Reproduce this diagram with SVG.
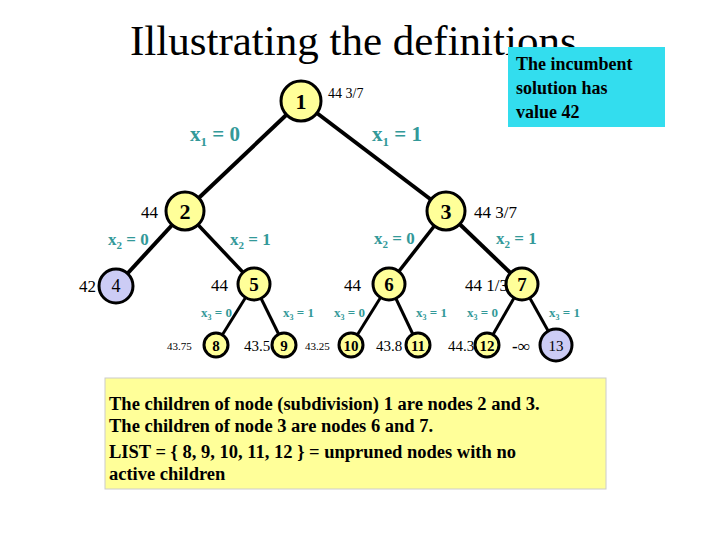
<svg xmlns="http://www.w3.org/2000/svg" width="720" height="540" viewBox="0 0 720 540">
<style>
.t{font-family:"Liberation Serif",serif}
.b{font-family:"Liberation Serif",serif;font-weight:bold}
.n{fill:#ffff99;stroke:#000;stroke-width:3}
.p{fill:#ccccf5;stroke:#000;stroke-width:3}
.lab{font-family:"Liberation Serif",serif;font-weight:bold;fill:#339999}
.e{stroke:#000}
</style>
<rect width="720" height="540" fill="#fff"/>
<text class="t" x="130" y="55" font-size="43">Illustrating the definitions</text>
<g id="incumbent"><rect x="508" y="47" width="157" height="80" fill="#33ddee"/>
<text class="b" font-size="18" x="516" y="70">The incumbent</text>
<text class="b" font-size="18" x="516" y="94">solution has</text>
<text class="b" font-size="18" x="516" y="118">value 42</text></g>
<g id="connectors" class="e">
<line x1="301" y1="101" x2="185" y2="211" stroke-width="4"/>
<line x1="301" y1="101" x2="446" y2="211" stroke-width="4"/>
<line x1="185" y1="211" x2="116" y2="286" stroke-width="4"/>
<line x1="185" y1="211" x2="254" y2="284" stroke-width="3.5"/>
<line x1="446" y1="211" x2="389" y2="284" stroke-width="3.5"/>
<line x1="446" y1="211" x2="522" y2="284" stroke-width="4"/>
<line x1="254" y1="284" x2="216" y2="345" stroke-width="3"/>
<line x1="254" y1="284" x2="284" y2="345" stroke-width="3"/>
<line x1="389" y1="284" x2="351" y2="345" stroke-width="3"/>
<line x1="389" y1="284" x2="418" y2="345" stroke-width="3"/>
<line x1="522" y1="284" x2="487" y2="345" stroke-width="3"/>
<line x1="522" y1="284" x2="556" y2="345" stroke-width="3"/>
</g>
<g id="edge-labels" class="lab">
<text x="190" y="141" font-size="21">x<tspan font-size="13" dy="5">1</tspan><tspan dy="-5"> = 0</tspan></text>
<text x="372" y="141" font-size="21">x<tspan font-size="13" dy="5">1</tspan><tspan dy="-5"> = 1</tspan></text>
<text x="108" y="245" font-size="17">x<tspan font-size="11" dy="4">2</tspan><tspan dy="-4"> = 0</tspan></text>
<text x="230" y="245" font-size="17">x<tspan font-size="11" dy="4">2</tspan><tspan dy="-4"> = 1</tspan></text>
<text x="374" y="244" font-size="17">x<tspan font-size="11" dy="4">2</tspan><tspan dy="-4"> = 0</tspan></text>
<text x="496" y="244" font-size="17">x<tspan font-size="11" dy="4">2</tspan><tspan dy="-4"> = 1</tspan></text>
<text x="201" y="317" font-size="13">x<tspan font-size="8" dy="3">3</tspan><tspan dy="-3"> = 0</tspan></text>
<text x="283" y="317" font-size="13">x<tspan font-size="8" dy="3">3</tspan><tspan dy="-3"> = 1</tspan></text>
<text x="334" y="317" font-size="13">x<tspan font-size="8" dy="3">3</tspan><tspan dy="-3"> = 0</tspan></text>
<text x="416" y="317" font-size="13">x<tspan font-size="8" dy="3">3</tspan><tspan dy="-3"> = 1</tspan></text>
<text x="467" y="317" font-size="13">x<tspan font-size="8" dy="3">3</tspan><tspan dy="-3"> = 0</tspan></text>
<text x="549" y="317" font-size="13">x<tspan font-size="8" dy="3">3</tspan><tspan dy="-3"> = 1</tspan></text>
</g>
<g id="node1"><circle class="n" cx="301" cy="101" r="20"/><text class="b" x="301" y="109" font-size="22" text-anchor="middle">1</text><text class="t" x="328" y="98" font-size="14">44 3/7</text></g>
<g id="node2"><circle class="n" cx="185" cy="211" r="19"/><text class="b" x="185" y="219" font-size="22" text-anchor="middle">2</text><text class="t" x="141" y="218" font-size="17">44</text></g>
<g id="node3"><circle class="n" cx="446" cy="211" r="19"/><text class="b" x="446" y="219" font-size="22" text-anchor="middle">3</text><text class="t" x="474" y="218" font-size="17">44 3/7</text></g>
<g id="node4"><circle class="p" cx="116" cy="286" r="17"/><text class="t" x="116" y="292" font-size="18" text-anchor="middle">4</text><text class="t" x="79" y="292" font-size="17">42</text></g>
<g id="node5"><circle class="n" cx="254" cy="284" r="16"/><text class="b" x="254" y="291" font-size="19" text-anchor="middle">5</text><text class="t" x="211" y="291" font-size="17">44</text></g>
<g id="node6"><circle class="n" cx="389" cy="284" r="16"/><text class="b" x="389" y="291" font-size="19" text-anchor="middle">6</text><text class="t" x="344" y="291" font-size="17">44</text></g>
<g id="node7"><circle class="n" cx="522" cy="284" r="16"/><text class="b" x="522" y="291" font-size="19" text-anchor="middle">7</text><text class="t" x="465" y="291" font-size="17">44 1/3</text></g>
<g id="node8"><circle class="n" cx="216" cy="345" r="12"/><text class="b" x="216" y="351" font-size="15" text-anchor="middle">8</text><text class="t" x="167" y="350" font-size="11">43.75</text></g>
<g id="node9"><circle class="n" cx="284" cy="345" r="12"/><text class="b" x="284" y="351" font-size="15" text-anchor="middle">9</text><text class="t" x="244" y="351" font-size="15">43.5</text></g>
<g id="node10"><circle class="n" cx="351" cy="345" r="12"/><text class="b" x="351" y="351" font-size="15" text-anchor="middle">10</text><text class="t" x="305" y="350" font-size="11">43.25</text></g>
<g id="node11"><circle class="n" cx="418" cy="345" r="12"/><text class="b" x="418" y="351" font-size="15" text-anchor="middle">11</text><text class="t" x="376" y="351" font-size="15">43.8</text></g>
<g id="node12"><circle class="n" cx="487" cy="345" r="12"/><text class="b" x="487" y="351" font-size="15" text-anchor="middle">12</text><text class="t" x="448" y="351" font-size="15">44.3</text></g>
<g id="node13"><circle class="p" cx="556" cy="345" r="16"/><text class="t" x="556" y="351" font-size="15" text-anchor="middle">13</text><text class="b" x="512" y="352" font-size="17">-∞</text></g>
<g id="note"><rect x="105" y="378" width="501" height="111" fill="#ffff99" stroke="#ccc"/>
<text class="b" font-size="18.5" x="109" y="410">The children of node (subdivision) 1 are nodes 2 and 3.</text>
<text class="b" font-size="18.5" x="109" y="432">The children of node 3 are nodes 6 and 7.</text>
<text class="b" font-size="18.5" x="109" y="458">LIST = { 8, 9, 10, 11, 12 } = unpruned nodes with no</text>
<text class="b" font-size="18.5" x="109" y="480">active children</text></g>
</svg>
